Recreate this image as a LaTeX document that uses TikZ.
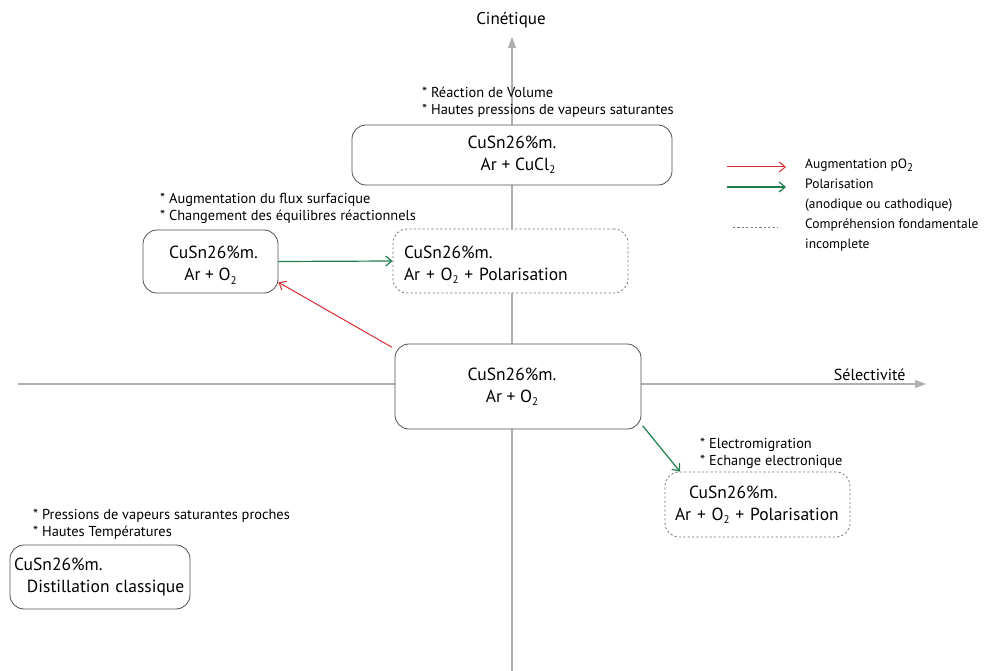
\documentclass[tikz,border=0pt]{standalone}
\usepackage{fontspec}
\setmainfont{PT Sans}
\usetikzlibrary{arrows.meta}
\definecolor{axisgray}{RGB}{175,175,175}
\definecolor{boxgray}{RGB}{80,80,80}
\definecolor{dashgray}{RGB}{120,120,120}
\definecolor{myred}{RGB}{215,45,50}
\definecolor{mygreen}{RGB}{30,125,75}
\newcommand{\lowtwo}{\raisebox{-0.35ex}{\fontsize{11}{11}\selectfont 2}}
\newcommand{\tallstrut}{\rule{0pt}{20pt}}
\begin{document}
\begin{tikzpicture}[x=1pt,y=-1pt,
  axisline/.style={draw=axisgray,line width=1.2pt,-{Triangle[length=11pt,width=8pt]}},
  solidbox/.style={draw=boxgray,line width=0.8pt,fill=white,rounded corners=14pt,inner sep=0pt,font=\fontsize{17.5}{22}\selectfont},
  dashbox/.style={solidbox,draw=dashgray,dash pattern=on 2.2pt off 2.2pt},
  note/.style={font=\fontsize{14.4}{17}\selectfont,align=left,anchor=north west,inner sep=0pt},
  redarrow/.style={draw=myred,line width=1pt,-{Straight Barb[length=6pt,width=10pt]}},
  greenarrow/.style={draw=mygreen,line width=1.2pt,-{Straight Barb[length=6pt,width=10pt]}},
  legtext/.style={font=\fontsize{13.5}{20}\selectfont,align=left,anchor=north west,inner sep=0pt}
]
\useasboundingbox (0,0) rectangle (997,671);
% axes
\coordinate (vbot) at (512,671);
\coordinate (vtop) at (512,37);
\coordinate (hleft) at (18,384);
\coordinate (hright) at (926,384);
\draw[axisline] (vbot) -- (vtop);
\draw[axisline] (hleft) -- (hright);
\node[font=\fontsize{17}{19}\selectfont] (cin) at (511,20) {Cinétique};
\node[font=\fontsize{16}{18}\selectfont,anchor=east] (sel) at (909,375) {Sélectivité};

% boxes
\node[solidbox,minimum width=320pt,minimum height=60pt,align=center] (top) at (512,155)
  {CuSn26\%m.\\\hspace*{12pt}Ar + CuCl\lowtwo};
\node[solidbox,minimum width=135pt,minimum height=63pt,align=center] (left) at (210.5,261.5)
  {\tallstrut\hspace*{6pt}CuSn26\%m.\\Ar + O\lowtwo};
\node[dashbox,minimum width=235pt,minimum height=64pt,text width=213pt,align=left] (dash1) at (510.5,261)
  {\tallstrut CuSn26\%m.\\Ar + O\lowtwo{} + Polarisation};
\node[solidbox,minimum width=246pt,minimum height=85pt,align=center] (center) at (518,386.5)
  {CuSn26\%m.\hspace*{12pt}\\Ar + O\lowtwo\hspace*{12pt}};
\node[dashbox,minimum width=185pt,minimum height=65pt,text width=165pt,align=left] (dash2) at (757.5,504.5)
  {\hspace*{14pt}CuSn26\%m.\\Ar + O\lowtwo{} + Polarisation};
\node[solidbox,minimum width=180pt,minimum height=64pt,text width=172pt,align=left] (dist) at (100,577)
  {\mbox{CuSn26\%m.}\\\mbox{\hspace*{13pt}Distillation classique}};

% notes
\node[note] (n1) at (422,87) {* Réaction de Volume\\* Hautes pressions de vapeurs saturantes};
\node[note] (n2) at (160,193) {* Augmentation du flux surfacique\\* Changement des équilibres réactionnels};
\node[note] (n3) at (700,438) {* Electromigration\\* Echange electronique};
\node[note] (n4) at (33,509) {* Pressions de vapeurs saturantes proches\\* Hautes Températures};

% connectors
\draw[greenarrow] (left.east) -- (dash1.west);
\draw[redarrow,shorten <=3pt] (center.163) -- (left.-17);
\draw[greenarrow,shorten <=2pt] (center.-17) -- (dash2.157);

% legend
\coordinate (r1) at (727,167);
\coordinate (r2) at (786,167);
\coordinate (g1) at (727,187);
\coordinate (g2) at (786,187);
\coordinate (d1) at (733,227);
\coordinate (d2) at (778,227);
\draw[redarrow] (r1) -- (r2);
\draw[greenarrow] (g1) -- (g2);
\draw[draw=dashgray,line width=0.8pt,dash pattern=on 2.2pt off 2.2pt] (d1) -- (d2);
\node[legtext] (l1) at (805,159) {Augmentation pO\lowtwo};
\node[legtext] (l2) at (805,179) {Polarisation\\(anodique ou cathodique)};
\node[legtext] (l3) at (805,219) {Compréhension fondamentale\\incomplete};
\end{tikzpicture}
\end{document}
